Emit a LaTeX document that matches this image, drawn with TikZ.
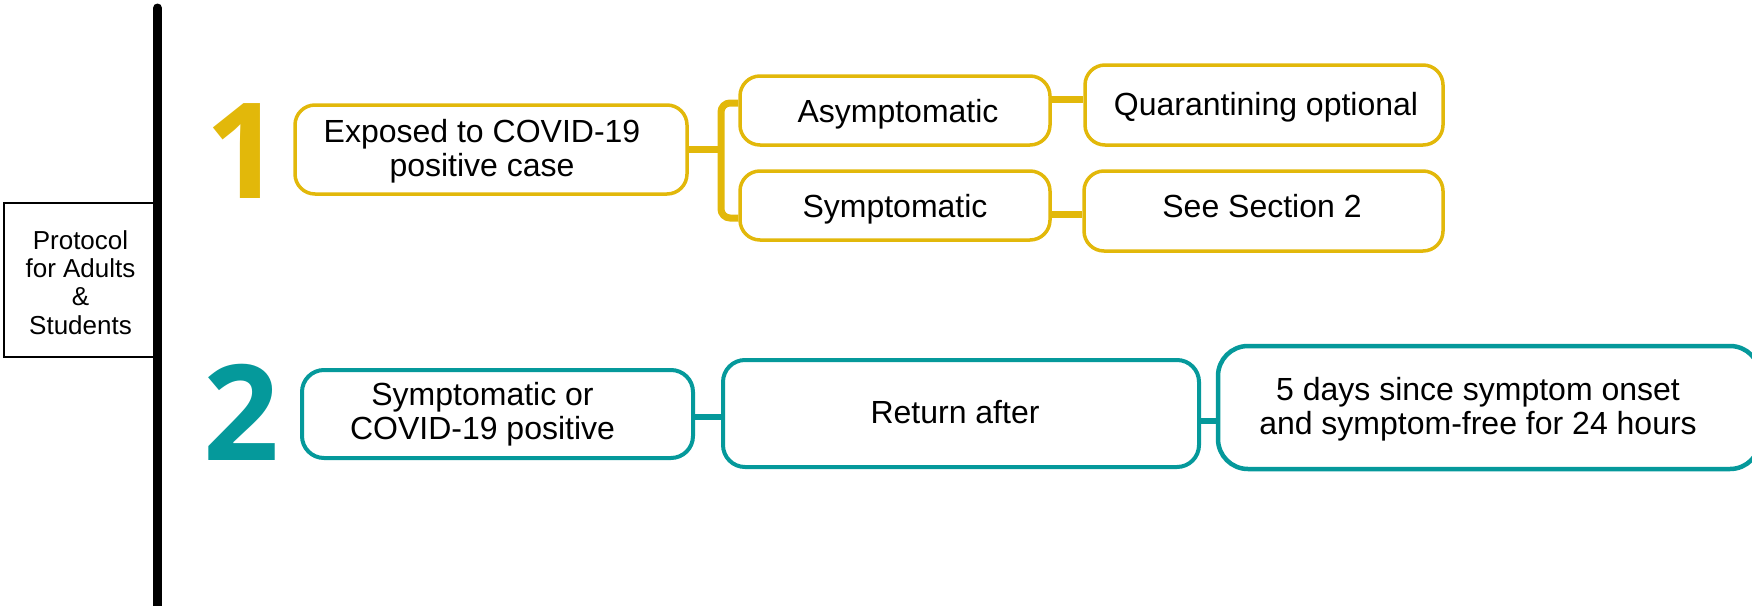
\documentclass[tikz,border=0pt]{standalone}
\usepackage{fontspec}
\setmainfont{Liberation Sans}
\newfontfamily\numfont{Open Sans}
\definecolor{ycol}{RGB}{226,184,10}
\definecolor{tcol}{RGB}{5,153,155}
\tikzset{
  boxtxt/.style={font=\fontsize{32}{34}\selectfont, align=center, text=black},
  ybox/.style={draw=ycol, line width=3.5pt, rounded corners=20pt, inner sep=0pt, fill=white},
  tbox/.style={draw=tcol, line width=4pt, rounded corners=22pt, inner sep=0pt, fill=white},
  yconn/.style={draw=ycol, line width=7pt},
  tconn/.style={draw=tcol, line width=6pt},
  bignum/.style={font=\numfont\bfseries\fontsize{133}{133}\selectfont, anchor=base, inner sep=0pt}
}
\begin{document}
\begin{tikzpicture}[x=1pt,y=-1pt]
\useasboundingbox (0,0) rectangle (1752,605);
% timeline
\coordinate (ltop) at (157.5,8);
\coordinate (lbot) at (157.5,615);
\draw[line width=9pt, line cap=round] (ltop) -- (lbot);
\node[draw, line width=2pt, minimum width=154, minimum height=154.5, inner sep=0pt] (prot) at (80.5,280) {};
\node[font=\fontsize{26}{28.4}\selectfont, align=center, inner sep=0pt] (protT) at (80.5,282.5)
      {Protocol\\for Adults\\\&\\Students};
% numbers
\node[bignum, text=ycol] (n1) at (243.5,198) {1};
\node[bignum, text=tcol] (n2) at (241.5,460) {2};
% section 1
\node[ybox, minimum width=392, minimum height=89,
      label={[boxtxt, xshift=-9pt, yshift=-2pt]center:Exposed to COVID-19\\positive case}] (exp) at (491,149.5) {};
\node[ybox, minimum width=310, minimum height=69,
      label={[boxtxt, xshift=3pt, yshift=-3.4pt]center:Asymptomatic}] (asym) at (895,110.5) {};
\node[ybox, minimum width=310, minimum height=69,
      label={[boxtxt, yshift=-3.4pt]center:Symptomatic}] (sym) at (895,205.5) {};
\node[ybox, minimum width=358, minimum height=80,
      label={[boxtxt, xshift=2pt, yshift=-2.2pt]center:Quarantining optional}] (quar) at (1264,105) {};
\node[ybox, minimum width=359, minimum height=80,
      label={[boxtxt, xshift=-1.5pt, yshift=4.5pt]center:See Section 2}] (sec) at (1263.5,211) {};
\coordinate (br) at (721,149.5);
\draw[yconn] (exp.east) -- (br);
\draw[yconn, rounded corners=9pt] ([yshift=7.5pt]asym.west) -| (br) |- ([yshift=-12.5pt]sym.west);
\coordinate (c1) at ([yshift=11pt]asym.east);
\draw[yconn] (c1) -- (c1 -| quar.west);
\coordinate (c2) at ([yshift=-9pt]sym.east);
\draw[yconn] (c2) -- (c2 -| sec.west);
% section 2
\node[tbox, minimum width=391, minimum height=88,
      label={[boxtxt, xshift=-15pt]center:Symptomatic or\\COVID-19 positive}] (s2a) at (497.5,414) {};
\node[tbox, minimum width=476, minimum height=107,
      label={[boxtxt, xshift=-6pt, yshift=1pt]center:Return after}] (ret) at (961,413.5) {};
\node[tbox, line width=4.5pt, rounded corners=30pt, minimum width=542, minimum height=123,
      label={[boxtxt, xshift=-11pt, yshift=-1.7pt]center:5 days since symptom onset\\and symptom-free for 24 hours}] (days) at (1489,407.5) {};
\coordinate (c3) at ([yshift=-3pt]s2a.east);
\draw[tconn] (c3) -- (c3 -| ret.west);
\coordinate (c4) at ([yshift=-7.5pt]ret.east);
\draw[tconn] (c4) -- (c4 -| days.west);
\end{tikzpicture}
\end{document}
